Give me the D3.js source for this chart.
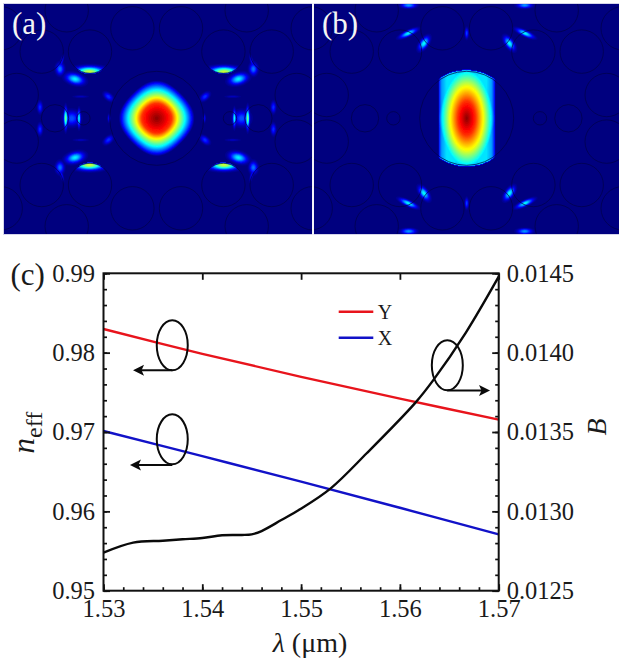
<!DOCTYPE html>
<html>
<head>
<meta charset="utf-8">
<script src="https://cdn.jsdelivr.net/npm/d3@7"></script>
<style>
html, body { margin: 0; padding: 0; background: #fff; }
svg { display: block; }
text { font-family: "Liberation Serif", serif; fill: #1a1a1a; }
</style>
</head>
<body>
<div id="chart"></div>
<script>
// panel (c) values
var lambdaLines = [1.53, 1.54, 1.55, 1.56, 1.57];
var neffY = [0.98298, 0.97985, 0.97695, 0.97420, 0.97155];
var neffX = [0.97013, 0.96695, 0.96375, 0.96045, 0.95710];
var lambdaB = [1.53, 1.533, 1.536, 1.538, 1.54, 1.542, 1.544, 1.545, 1.546, 1.548, 1.54989, 1.553, 1.55664, 1.56153, 1.56338, 1.56666, 1.57];
var birefringence = [0.01274, 0.012803, 0.012815, 0.012824, 0.012832, 0.012849, 0.012851, 0.012855, 0.012876, 0.012945, 0.013013, 0.013145, 0.013366, 0.013682, 0.013827, 0.014125, 0.014479];
var xTicks = [1.53, 1.54, 1.55, 1.56, 1.57];
var leftTicks = [0.95, 0.96, 0.97, 0.98, 0.99];
var rightTicks = [0.0125, 0.0130, 0.0135, 0.0140, 0.0145];
var legendLabels = ['Y', 'X'];
var legendColors = ['#e8141c', '#1212c8'];

// loop annotations: loop centre, arrow height and arrow tip, in axis units
var loopLambda = [1.53696, 1.53696, 1.5648];
var loopNeff = [0.98093, 0.96908, 0.97841];
var arrowNeff = [0.97778, 0.96584, 0.97523];
var arrowTip = [1.53299, 1.53268, 1.56912];

// air holes of the fibre cross section, one quadrant, offsets from the core in px
var holeDx = [24.3, 66.7, 115, 140, 101.7, 73.3, 90, 156];
var holeDy = [90, 66.7, 66.7, 23.3, 0, 0, 108, 90];
var holeR = [21.7, 21.7, 21.7, 21.7, 13.7, 6.7, 21.7, 21.7];
var coreR = 47;

// mode lobes, one quadrant: offset, widths, tilt, peak, optional hole it is cut by
var lobesA = [
    {dx: 67.3, dy: 46.5, sx: 9, sy: 3, tilt: 0, peak: 0.6, cut: 1},
    {dx: 81.7, dy: 39.3, sx: 5.5, sy: 3, tilt: 15, peak: 0.36},
    {dx: 96.7, dy: 49.3, sx: 2.5, sy: 3.6, tilt: 0, peak: 0.24},
    {dx: 95, dy: 57, sx: 0.8, sy: 4, tilt: 15, peak: 0.14},
    {dx: 48.3, dy: 21.7, sx: 3.4, sy: 2, tilt: 40, peak: 0.17},
    {dx: 116.7, dy: 11, sx: 1.5, sy: 3.5, tilt: 0, peak: 0.17},
    {dx: 91, dy: 0, sx: 0.9, sy: 6, tilt: 0, peak: 0.55},
    {dx: 77.7, dy: 0, sx: 0.8, sy: 5, tilt: 0, peak: 0.42},
    {dx: 85, dy: 0, sx: 5, sy: 4.5, tilt: 0, peak: 0.2},
    {dx: 47.7, dy: 0, sx: 0.8, sy: 2.6, tilt: 0, peak: 0.13},
    {dx: 76, dy: 21.7, sx: 5, sy: 0.8, tilt: 0, peak: 0.07}
];
var lobesB = [
    {dx: 58.3, dy: 85, sx: 5.5, sy: 1.5, tilt: -25, peak: 0.38},
    {dx: 42.7, dy: 75, sx: 2.2, sy: 4.5, tilt: 35, peak: 0.38},
    {dx: 0, dy: 85, sx: 1, sy: 3.2, tilt: 0, peak: 0.2},
    {dx: 58, dy: 113, sx: 4.5, sy: 1.6, tilt: 0, peak: 0.28}
];

// core profile of each mode: distance from the core centre against field level
var profileDist = [0, 8, 15, 21, 28, 35, 38];
var profileLevel = [1, 0.93, 0.85, 0.63, 0.38, 0.12, 0];
var profileDistB = [0, 5, 9, 17, 25, 28, 35];
var profileLevelB = [1, 0.92, 0.85, 0.63, 0.33, 0.12, 0.1];
// the (b) core keeps a cyan floor across the band between the cut edges
var bandDist = [0, 20, 25, 28];
var bandLevel = [0.34, 0.34, 0.27, 0.12];

var jetStops = [0, 0.11, 0.36, 0.5, 0.64, 0.89, 1];
var jetColors = ['#00007f', '#0000ff', '#00ffff', '#7fff7f', '#ffff00', '#ff0000', '#7f0000'];

var w = 619, h = 662;
var svg = d3.select('#chart').append('svg').attr('width', w).attr('height', h);
var defs = svg.append('defs');
defs.append('filter').attr('id', 'soft').append('feGaussianBlur').attr('stdDeviation', 0.7);

var jet = d3.scaleLinear().domain(jetStops).range(jetColors).clamp(true);

function lobeField(lobes, dx, dy) {
    var ax = Math.abs(dx), ay = Math.abs(dy), best = 0;
    lobes.forEach(function (l) {
        var t = l.tilt * Math.PI / 180;
        var px = ax - l.dx, py = ay - l.dy;
        var u = px * Math.cos(t) + py * Math.sin(t);
        var v = -px * Math.sin(t) + py * Math.cos(t);
        if (l.cut !== undefined) {
            var hx = ax - holeDx[l.cut], hy = ay - holeDy[l.cut];
            if (hx * hx + hy * hy > holeR[l.cut] * holeR[l.cut]) return;
        }
        var val = l.peak * Math.exp(-(u * u) / (2 * l.sx * l.sx) - (v * v) / (2 * l.sy * l.sy));
        if (val > best) best = val;
    });
    return best;
}

var coreA = d3.scaleLinear().domain(profileDist).range(profileLevel).clamp(true);
var coreB = d3.scaleLinear().domain(profileDistB).range(profileLevelB).clamp(true);
var bandB = d3.scaleLinear().domain(bandDist).range(bandLevel).clamp(true);

function fieldA(dx, dy) {
    var r = Math.sqrt(dx * dx + dy * dy);
    var th = Math.atan2(dy, dx);
    var s = Math.sin(2 * th);
    // the outer contour is a rounded diamond, the inner ones are round
    var d = r * (1 + 0.09 * s * s * Math.min(1, r / 35));
    return Math.max(coreA(d), lobeField(lobesA, dx, dy));
}

function fieldB(dx, dy) {
    var v = lobeField(lobesB, dx, dy);
    if (Math.abs(dx) < 28 && dx * dx + dy * dy < 48 * 48) {
        var d = Math.sqrt(dx * dx + dy * dy / (1.9 * 1.9));
        var ey = Math.abs(dy) - 47;
        var notch = 1 - 0.4 * Math.exp(-dx * dx / 50 - ey * ey / 32);
        v = Math.max(v, coreB(d), bandB(Math.abs(dx)) * notch);
    }
    return v;
}

function drawPanel(id, x0, y0, pw, ph, cx, cy, field, label, labelX) {
    var g = svg.append('g').attr('transform', 'translate(' + x0 + ',' + y0 + ')');
    defs.append('clipPath').attr('id', 'clip-' + id).append('rect').attr('width', pw).attr('height', ph);
    var body = g.append('g').attr('clip-path', 'url(#clip-' + id + ')');
    body.append('rect').attr('width', pw).attr('height', ph).attr('fill', jet(0));

    var values = new Array(pw * ph);
    for (var j = 0; j < ph; ++j) {
        for (var i = 0; i < pw; ++i) {
            values[j * pw + i] = field(i + 0.5 - cx, j + 0.5 - cy);
        }
    }
    var levels = d3.range(1, 60).map(function (k) { return k / 60; });
    var contours = d3.contours().size([pw, ph]).thresholds(levels)(values);
    body.append('g')
        .attr('filter', 'url(#soft)')
        .selectAll('path')
        .data(contours)
        .enter().append('path')
        .attr('d', d3.geoPath())
        .attr('fill', function (d) { return jet(d.value); });

    // hole outlines
    var holes = [{dx: 0, dy: 0, r: coreR}];
    holeDx.forEach(function (hx, k) {
        [-1, 1].forEach(function (sx) {
            [-1, 1].forEach(function (sy) {
                if (holeDy[k] === 0 && sy === 1) return;
                holes.push({dx: sx * hx, dy: sy * holeDy[k], r: holeR[k]});
            });
        });
    });
    body.append('g').selectAll('circle')
        .data(holes)
        .enter().append('circle')
        .attr('cx', function (d) { return cx + d.dx; })
        .attr('cy', function (d) { return cy + d.dy; })
        .attr('r', function (d) { return d.r; })
        .attr('fill', 'none')
        .attr('stroke', '#000048')
        .attr('stroke-opacity', 0.8)
        .attr('stroke-width', 0.9);

    g.append('text')
        .attr('x', labelX - x0)
        .attr('y', 34 - y0)
        .attr('font-size', 31)
        .style('fill', '#f4f4f4')
        .text(label);
}

svg.append('rect').attr('x', 3).attr('y', 3).attr('width', 616).attr('height', 232).attr('fill', '#d4d4ea');
svg.append('rect').attr('x', 312).attr('y', 3).attr('width', 2).attr('height', 232).attr('fill', '#f2f2f8');
drawPanel('a', 4, 4, 308, 230, 152.7, 114.3, fieldA, '(a)', 12);
drawPanel('b', 314, 4, 305, 230, 152.7, 114.3, fieldB, '(b)', 322);

// panel (c)
var plotL = 103.5, plotR = 498.7, plotT = 273.3, plotB = 590.7;
var x = d3.scaleLinear().domain([1.53, 1.57]).range([plotL, plotR]);
var yN = d3.scaleLinear().domain([0.95, 0.99]).range([plotB, plotT]);
var yB = d3.scaleLinear().domain([0.0125, 0.0145]).range([plotB, plotT]);

var plot = svg.append('g');

var neffLine = d3.line()
    .x(function (d) { return x(d[0]); })
    .y(function (d) { return yN(d[1]); })
    .curve(d3.curveCatmullRom);
var bLine = d3.line()
    .x(function (d) { return x(d[0]); })
    .y(function (d) { return yB(d[1]); })
    .curve(d3.curveCatmullRom);

plot.append('path').attr('d', neffLine(d3.zip(lambdaLines, neffY)))
    .attr('fill', 'none').attr('stroke', legendColors[0]).attr('stroke-width', 2.4);
plot.append('path').attr('d', neffLine(d3.zip(lambdaLines, neffX)))
    .attr('fill', 'none').attr('stroke', legendColors[1]).attr('stroke-width', 2.4);
plot.append('path').attr('d', bLine(d3.zip(lambdaB, birefringence)))
    .attr('fill', 'none').attr('stroke', '#0a0a0a').attr('stroke-width', 2.4);

// axes, all ticks point inwards
function addAxis(axis, tx, ty, fmt, ticks, minorValues) {
    var g = svg.append('g').attr('transform', 'translate(' + tx + ',' + ty + ')');
    if (minorValues) {
        g.append('g').call(axis.tickValues(minorValues).tickSize(-3.5).tickFormat(''))
            .call(function (s) { s.select('.domain').remove(); })
            .selectAll('line').attr('stroke', '#111').attr('stroke-width', 1.7);
    }
    var major = g.append('g').call(axis.tickValues(ticks).tickSize(-6.5).tickFormat(fmt));
    major.select('.domain').remove();
    major.selectAll('line').attr('stroke', '#111').attr('stroke-width', 1.8);
    return major;
}

var fmtX = d3.format('.2f'), fmtN = d3.format('.2f'), fmtB = d3.format('.4f');

var bottomAxis = addAxis(d3.axisBottom(x), 0, plotB, fmtX, xTicks, x.ticks(20));
bottomAxis.selectAll('text').attr('font-size', 24.5).attr('y', 26.5).attr('dy', 0);
var topAxis = addAxis(d3.axisTop(x), 0, plotT, fmtX, xTicks);
topAxis.selectAll('text').remove();
var leftAxis = addAxis(d3.axisLeft(yN), plotL, 0, fmtN, leftTicks, yN.ticks(20));
leftAxis.selectAll('text').attr('font-size', 24.5).attr('x', -8.5).attr('dy', '0.32em');
var rightAxis = addAxis(d3.axisRight(yB), plotR, 0, fmtB, rightTicks, yB.ticks(20));
rightAxis.selectAll('text').attr('font-size', 24.5).attr('x', 8).attr('dy', '0.32em');

svg.append('rect')
    .attr('x', plotL).attr('y', plotT)
    .attr('width', plotR - plotL).attr('height', plotB - plotT)
    .attr('fill', 'none').attr('stroke', '#111').attr('stroke-width', 2);

// legend
var legend = svg.append('g').selectAll('g')
    .data(legendLabels)
    .enter().append('g')
    .attr('transform', function (d, i) { return 'translate(338.7,' + (311.7 + i * 26) + ')'; });
legend.append('line')
    .attr('x2', 34.6)
    .attr('stroke', function (d, i) { return legendColors[i]; })
    .attr('stroke-width', 2.4);
legend.append('text')
    .attr('x', 39)
    .attr('y', 7)
    .attr('font-size', 20)
    .text(function (d) { return d; });

// loop and arrow annotations
var notes = svg.append('g').selectAll('g')
    .data(loopLambda)
    .enter().append('g');
notes.append('ellipse')
    .attr('cx', function (d) { return x(d); })
    .attr('cy', function (d, i) { return yN(loopNeff[i]); })
    .attr('rx', 15.5)
    .attr('ry', 25)
    .attr('fill', 'none')
    .attr('stroke', '#0a0a0a')
    .attr('stroke-width', 2);
notes.append('line')
    .attr('x1', function (d) { return x(d); })
    .attr('x2', function (d, i) { return x(arrowTip[i]) + (arrowTip[i] > d ? -8 : 8); })
    .attr('y1', function (d, i) { return yN(arrowNeff[i]); })
    .attr('y2', function (d, i) { return yN(arrowNeff[i]); })
    .attr('stroke', '#0a0a0a')
    .attr('stroke-width', 2);
notes.append('path')
    .attr('d', function (d, i) {
        var tx = x(arrowTip[i]), ty = yN(arrowNeff[i]), dir = arrowTip[i] > d ? -1 : 1;
        var p = d3.path();
        p.moveTo(tx, ty);
        p.lineTo(tx + dir * 11, ty - 5.5);
        p.lineTo(tx + dir * 8.5, ty);
        p.lineTo(tx + dir * 11, ty + 5.5);
        p.closePath();
        return p.toString();
    })
    .attr('fill', '#0a0a0a');

// text labels
svg.append('text').attr('x', 10.5).attr('y', 284.5).attr('font-size', 31).text('(c)');

var xLabel = svg.append('text').attr('x', 310).attr('y', 651.5).attr('font-size', 28).attr('text-anchor', 'middle');
xLabel.append('tspan').attr('font-style', 'italic').text('λ');
xLabel.append('tspan').text(' (μm)');

var nLabel = svg.append('text')
    .attr('transform', 'translate(34,453.5) rotate(-90)')
    .attr('font-size', 31);
nLabel.append('tspan').attr('font-style', 'italic').text('n');
nLabel.append('tspan').attr('dy', 8).attr('font-size', 24).text('eff');

svg.append('text')
    .attr('transform', 'translate(606,427) rotate(-90)')
    .attr('font-size', 28)
    .attr('font-style', 'italic')
    .attr('text-anchor', 'middle')
    .text('B');
</script>
</body>
</html>
